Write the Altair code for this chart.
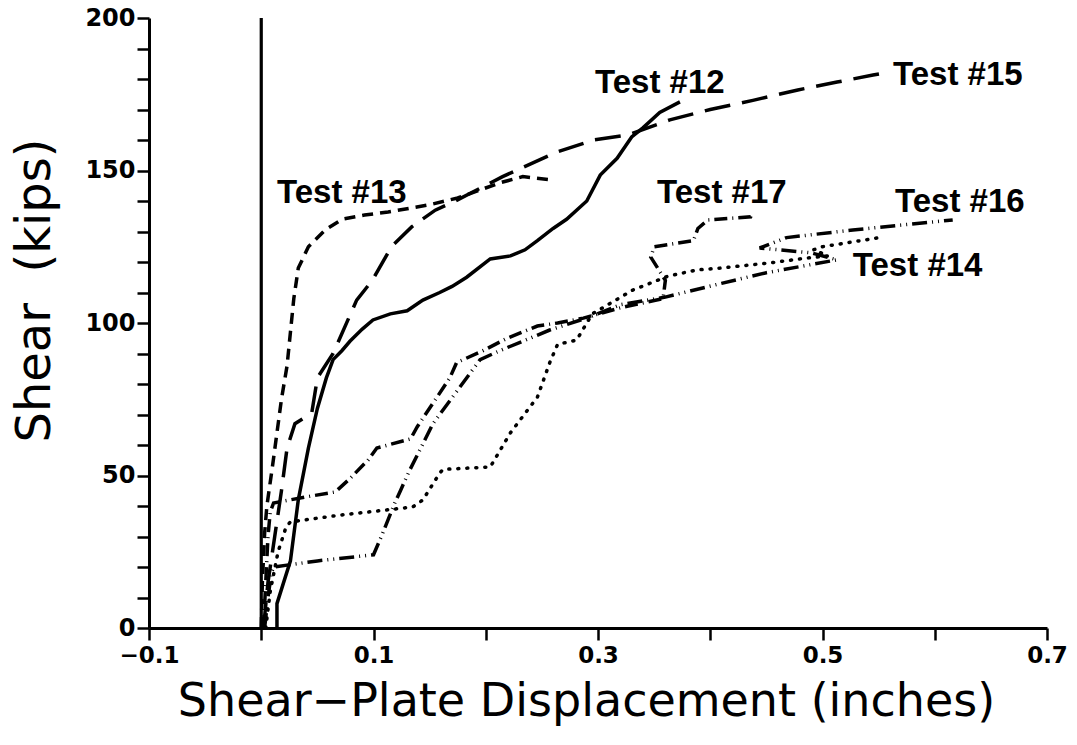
import altair as alt
import pandas as pd

# ---- data ----
t12_x = [0.014, 0.014, 0.026, 0.033, 0.042, 0.050, 0.058, 0.064, 0.072, 0.079, 0.090, 0.0995, 0.115, 0.130, 0.144, 0.159, 0.170, 0.183, 0.204, 0.222, 0.235, 0.246, 0.260, 0.272, 0.290, 0.302, 0.317, 0.330, 0.340, 0.355, 0.373]
t12_y = [0, 8, 22, 42, 59, 72, 82, 88, 91, 94, 98, 101, 103, 104, 107.5, 110, 112, 115, 121, 122, 124, 127, 131, 134, 140, 148.5, 154, 161, 164, 169, 172.5]

t13_x = [0.000, 0.001, 0.003, 0.005, 0.010, 0.014, 0.018, 0.023, 0.026, 0.029, 0.033, 0.042, 0.057, 0.072, 0.092, 0.113, 0.149, 0.175, 0.213, 0.233, 0.257]
t13_y = [0, 15, 31, 40, 53, 64, 75, 86, 97, 108, 118, 125, 130.5, 134, 135.4, 136.4, 138.7, 141, 146, 148, 147]

t15_x = [0.002, 0.006, 0.012, 0.018, 0.023, 0.030, 0.045, 0.050, 0.064, 0.085, 0.099, 0.116, 0.134, 0.155, 0.173, 0.215, 0.263, 0.296, 0.326, 0.364, 0.400, 0.438, 0.478, 0.513, 0.545, 0.556]
t15_y = [0, 15, 30, 45, 59, 67, 70.5, 82, 90, 107.5, 114, 125, 131.5, 137, 140, 148, 156, 160, 161.6, 166.6, 170, 173, 176.4, 179, 181.3, 182]

t14_x = [0.004, 0.008, 0.015, 0.022, 0.026, 0.070, 0.119, 0.135, 0.144, 0.159, 0.162, 0.204, 0.222, 0.246, 0.257, 0.264, 0.281, 0.290, 0.295, 0.331, 0.362, 0.388, 0.409, 0.453, 0.486, 0.505, 0.492, 0.500, 0.551]
t14_y = [0, 12, 25, 33, 34.8, 37, 39, 39.7, 42, 50.8, 52, 52.8, 64, 75.7, 87, 93, 94.4, 100, 103, 110.8, 115.3, 117.4, 118, 119.7, 121.3, 122, 124, 125, 128]

t16_x = [0.003, 0.006, 0.009, 0.011, 0.050, 0.100, 0.107, 0.119, 0.124, 0.131, 0.153, 0.177, 0.195, 0.213, 0.257, 0.293, 0.320, 0.360, 0.410, 0.450, 0.513, 0.490, 0.444, 0.468, 0.527, 0.616]
t16_y = [0, 10, 18, 20, 22, 24, 30, 41, 45, 50.8, 67, 79, 88, 91, 97.7, 102, 106, 108.5, 113, 116.5, 120.7, 123, 124.6, 128, 130.5, 133.8]

t17_x = [0.002, 0.004, 0.006, 0.008, 0.011, 0.040, 0.066, 0.079, 0.095, 0.103, 0.133, 0.139, 0.168, 0.174, 0.198, 0.219, 0.246, 0.264, 0.287, 0.320, 0.358, 0.360, 0.347, 0.350, 0.385, 0.389, 0.398, 0.436, 0.437]
t17_y = [0, 15, 30, 38, 41, 43, 44.6, 49, 55, 59, 62, 66, 82, 87, 91, 95, 99, 100, 101.6, 105, 108, 114, 121.6, 125, 127, 131, 133.8, 134.8, 136]

label_text = ["Test #12", "Test #15", "Test #13", "Test #17", "Test #16", "Test #14"]
label_x = [0.2973, 0.5628, 0.014, 0.3526, 0.5646, 0.527]
label_y = [175.4, 178.0, 139.3, 139.3, 136.4, 115.4]

x_ticks = [-0.1, 0.0, 0.1, 0.2, 0.3, 0.4, 0.5, 0.6, 0.7]
y_ticks = list(range(0, 201, 10))

series = [
    ("Test #12", t12_x, t12_y, None),
    ("Test #13", t13_x, t13_y, [11, 7]),
    ("Test #15", t15_x, t15_y, [26, 12]),
    ("Test #14", t14_x, t14_y, [1, 8]),
    ("Test #16", t16_x, t16_y, [15, 5, 1, 5, 1, 5]),
    ("Test #17", t17_x, t17_y, [13, 5, 1, 5]),
]

xscale = alt.Scale(domain=[-0.1, 0.7], nice=False, zero=False)
yscale = alt.Scale(domain=[0, 200], nice=False, zero=True)

xaxis = alt.Axis(
    values=x_ticks,
    labelExpr="abs(round(datum.value*10)) % 2 == 1 ? format(datum.value, '.1f') : ''",
    grid=False, tickSize=12, tickWidth=2.5, tickColor="black",
    domainColor="black", domainWidth=3,
    labelFont="DejaVu Sans", labelFontWeight="bold", labelFontSize=23,
    labelColor="black", labelPadding=4, labelFlush=False,
    title="Shear\u2212Plate Displacement (inches)",
    titleFont="DejaVu Sans", titleFontWeight="normal", titleFontSize=46,
    titleColor="black", titleX=437, titleY=87, titleAlign="center",
    titleBaseline="alphabetic", titleAnchor="middle",
)
yaxis = alt.Axis(
    values=y_ticks,
    labelExpr="datum.value % 50 == 0 ? datum.label : ''",
    grid=False, tickSize=12, tickWidth=2.5, tickColor="black",
    domainColor="black", domainWidth=3,
    labelFont="DejaVu Sans", labelFontWeight="bold", labelFontSize=24,
    labelColor="black", labelPadding=2, labelFlush=False,
    title="Shear\u00a0\u00a0(kips)",
    titleFont="DejaVu Sans", titleFontWeight="normal", titleFontSize=48,
    titleColor="black", titleAngle=270, titleX=-100, titleY=272,
    titleAlign="center", titleBaseline="alphabetic",
)

X = alt.X("x:Q", scale=xscale, axis=xaxis)
Y = alt.Y("y:Q", scale=yscale, axis=yaxis)

layers = []
for name, xs, ys, dash in series:
    df = pd.DataFrame({"x": xs, "y": ys, "i": list(range(len(xs)))})
    kw = {}
    if dash is not None:
        kw["strokeDash"] = dash
    cap = "round" if name == "Test #14" else "butt"
    ln = alt.Chart(df).mark_line(color="black", strokeWidth=3.5, strokeCap=cap, **kw).encode(
        x=X, y=Y, order=alt.Order("i:Q"),
    )
    layers.append(ln)

zero_line = alt.Chart(pd.DataFrame({"x": [0.0]})).mark_rule(color="black", strokeWidth=3.2).encode(x=X)

labels = alt.Chart(pd.DataFrame({"t": label_text, "x": label_x, "y": label_y})).mark_text(
    font="Liberation Sans", fontWeight="bold", fontSize=33, color="black",
    align="left", baseline="alphabetic",
).encode(x=X, y=Y, text="t:N")

chart = alt.layer(zero_line, *layers, labels).properties(
    width=898, height=610,
    autosize=alt.AutoSizeParams(type="none"),
    padding={"left": 149, "top": 18, "right": 30, "bottom": 117},
    background="white",
).configure_view(stroke=None)

chart.save("out.html", embed_options={"renderer": "svg", "actions": False})
